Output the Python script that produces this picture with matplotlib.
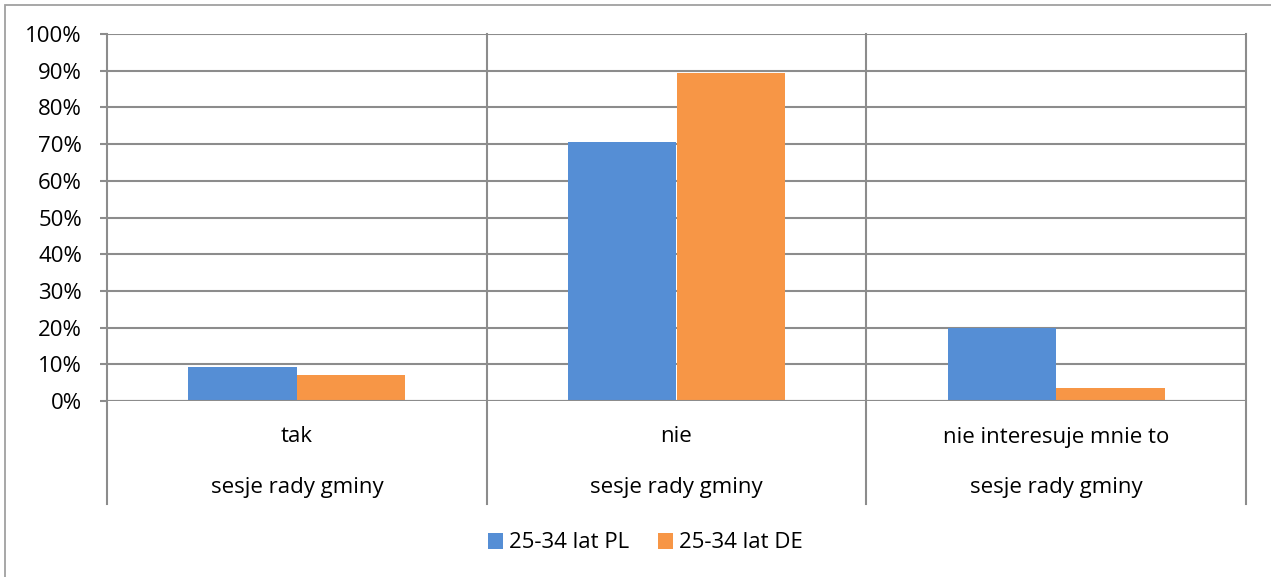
import numpy as np
import matplotlib.pyplot as plt
from matplotlib.patches import Rectangle
from matplotlib.ticker import FuncFormatter

categories = ['tak', 'nie', 'nie interesuje mnie to']
group_label = 'sesje rady gminy'
series_names = ['25-34 lat PL', '25-34 lat DE']
pl_values = [9.3, 70.7, 19.9]
de_values = [7.1, 89.4, 3.5]
colors = ['#558ED5', '#F79646']

plt.rcParams['font.family'] = ['Open Sans', 'DejaVu Sans']
W, H = 1271, 577
fig = plt.figure(figsize=(W / 100, H / 100), dpi=100)
grid_c = '#8c8c8c'
fs = 16

# plot area in pixel coords of the reference
x0, x1, ytop, ybot = 107, 1246, 34, 401
ax = fig.add_axes([x0 / W, 1 - ybot / H, (x1 - x0) / W, (ybot - ytop) / H])

x = np.arange(len(categories))
bw = 0.286
ax.bar(x - bw / 2, pl_values, bw, color=colors[0], label=series_names[0], zorder=3)
ax.bar(x + bw / 2, de_values, bw, color=colors[1], label=series_names[1], zorder=3)

ax.set_xlim(-0.5, len(categories) - 0.5)
ax.set_ylim(0, 100)
ax.set_yticks(np.arange(0, 101, 10))
ax.yaxis.set_major_formatter(FuncFormatter(lambda v, p: f'{int(v)}%'))
ax.tick_params(axis='y', length=5, width=1.5, color=grid_c, labelsize=fs, pad=13)
ax.set_xticks([])
ax.grid(axis='y', color=grid_c, linewidth=1.5, zorder=0)
for s in ax.spines.values():
    s.set_visible(False)
ax.axhline(0, color=grid_c, linewidth=1.5, zorder=4)

# category separators that run down through the multi-level axis
ext = (504 - ybot) / (ybot - ytop)
for b in np.arange(-0.5, len(categories), 1.0):
    ax.plot([b, b], [-ext, 1], transform=ax.get_xaxis_transform(), color=grid_c,
            linewidth=1.5, clip_on=False, zorder=4)

y_cat = -(437 - ybot) / (ybot - ytop)
y_grp = -(488 - ybot) / (ybot - ytop)
for xi, c in zip(x, categories):
    ax.text(xi, y_cat, c, transform=ax.get_xaxis_transform(), ha='center', va='center', fontsize=fs)
    ax.text(xi, y_grp, group_label, transform=ax.get_xaxis_transform(), ha='center', va='center', fontsize=fs)

fig.legend(loc='center', bbox_to_anchor=(645 / W, 1 - 543 / H), ncol=2, frameon=False,
           fontsize=fs, handlelength=0.7, handleheight=0.7, handletextpad=0.25, columnspacing=1.3)

fig.patches.append(Rectangle((5 / W, -0.1), 1.2, 1 - 5 / H + 0.1, transform=fig.transFigure,
                             fill=False, edgecolor='#a0a0a0', linewidth=1.3))

fig.savefig('out.png', dpi=100)
